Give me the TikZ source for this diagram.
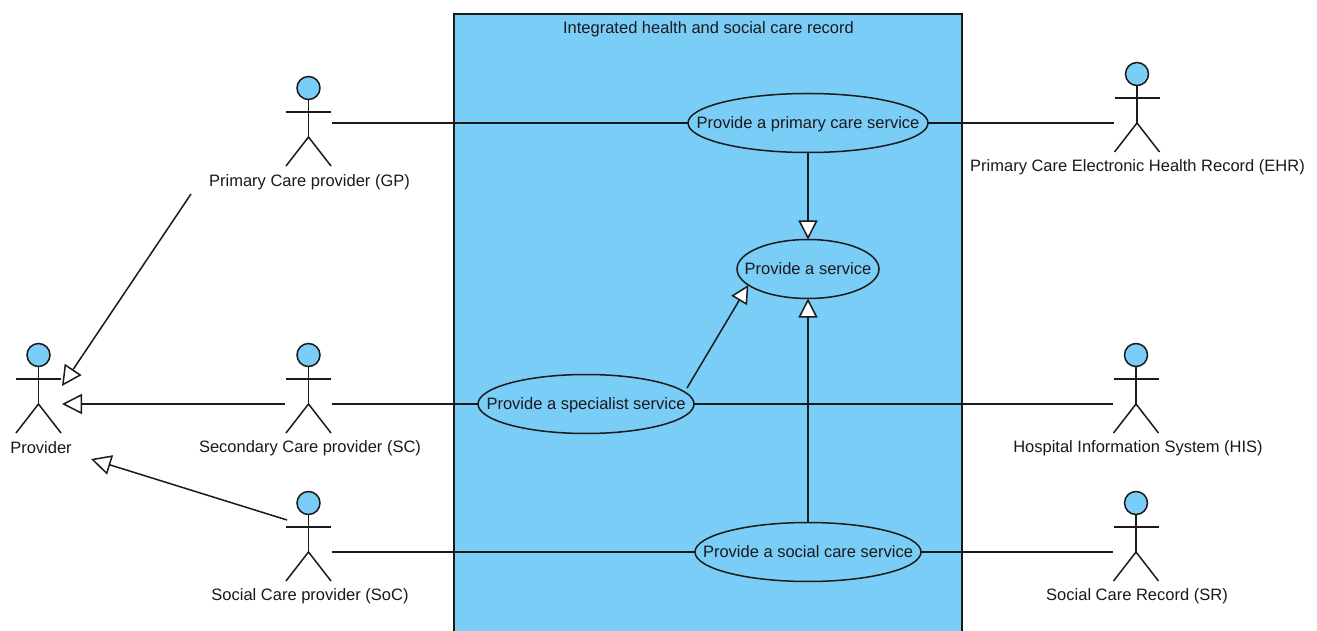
\documentclass[tikz,border=0pt]{standalone}
\usepackage{fontspec}
\setmainfont{Liberation Sans}
\usetikzlibrary{shapes.geometric,arrows.meta}
\definecolor{ucblue}{HTML}{7ACDF6}
\definecolor{ink}{HTML}{1A1A1A}
\tikzset{
  x=1pt,y=-1pt,
  usecase/.style={ellipse,draw=ink,fill=ucblue,line width=1.5pt,inner sep=0pt,outer sep=0pt,minimum height=59pt,text=ink,font=\fontsize{16.5}{19}\selectfont},
  actorbox/.style={inner sep=0pt,outer sep=0pt,minimum width=46pt,minimum height=90pt},
  actorlabel/.style={text=ink,font=\fontsize{16.5}{19}\selectfont,inner sep=0pt},
  assoc/.style={draw=ink,line width=1.5pt},
  gen/.style={draw=ink,line width=1.5pt,-{Triangle[open,fill=white,length=20pt,width=20pt]}},
  genvert/.style={draw=ink,line width=1.5pt,-{Triangle[open,fill=white,length=19pt,width=19pt]}},
  gensmall/.style={draw=ink,line width=1.5pt,-{Triangle[open,fill=white,length=18pt,width=18pt]}},
  stick/.style={draw=ink,line width=1.5pt},
  head/.style={circle,draw=ink,fill=ucblue,line width=1.5pt,minimum size=23pt,inner sep=0pt,outer sep=0pt}
}
\newcommand{\actor}[3]{% name, x, head y
  \node[actorbox] (#1) at (#2,#3+33.5) {};
  \node[head] (#1head) at (#2,#3) {};
  \draw[stick] (#1head.south) -- (#2,#3+49);
  \draw[stick] (#2-22.5,#3+24) -- (#2+22.5,#3+24);
  \draw[stick] (#2-22.5,#3+78) -- (#2,#3+49) -- (#2+22.5,#3+78);
}
\newcommand{\uctext}[1]{\makebox[0pt]{\smash{\raisebox{-5.5pt}{#1}}}}
\begin{document}
\begin{tikzpicture}
\useasboundingbox (0,0) rectangle (1317,631);
\fill[white] (0,0) rectangle (1317,631);
\path[fill=ucblue] (454,14) rectangle (962,631);
\draw[ink,line width=1.5pt] (454,640) -- (454,14) -- (962,14) -- (962,640);
\node[actorlabel] (systitle) at (708.5,29) {Integrated health and social care record};

\actor{prov}{38.5}{355}
\actor{gp}{308.5}{88}
\actor{sc}{308.5}{355}
\actor{soc}{308.5}{503}
\actor{ehr}{1137}{74}
\actor{his}{1136}{355}
\actor{sr}{1136}{503}

\node[actorlabel] (provl) at (41,448) {Provider};
\node[actorlabel] (gpl) at (309.5,182.5) {Primary Care provider (GP)};
\node[actorlabel] (scl) at (310,448.5) {Secondary Care provider (SC)};
\node[actorlabel] (socl) at (310,596.5) {Social Care provider (SoC)};
\node[actorlabel] (ehrl) at (1137.5,167.5) {Primary Care Electronic Health Record (EHR)};
\node[actorlabel] (hisl) at (1138,448.5) {Hospital Information System (HIS)};
\node[actorlabel] (srl) at (1137,596.5) {Social Care Record (SR)};

\node[usecase,minimum width=240pt] (primary) at (808,123) {\uctext{Provide a primary care service}};
\node[usecase,minimum width=142pt] (service) at (808,269) {\uctext{Provide a service}};
\node[usecase,minimum width=216pt] (special) at (586,404) {\uctext{Provide a specialist service}};
\node[usecase,minimum width=226pt] (social) at (808,552) {\uctext{Provide a social care service}};

\coordinate (p1) at (191,194);
\coordinate (p1t) at (62,386);
\coordinate (p2) at (285,404);
\coordinate (p2t) at (62,404);
\coordinate (p3) at (287,520);
\coordinate (p3t) at (91,459);
\coordinate (s1) at (687,388);

\draw[gen] (p1) -- (p1t);
\draw[gen] (p2) -- (p2t);
\draw[gen] (p3) -- (p3t);

\draw[assoc] (gp.east |- primary) -- (primary.west);
\draw[assoc] (primary.east) -- (ehr.west |- primary);
\draw[assoc] (sc.east |- special) -- (special.west);
\draw[assoc] (special.east) -- (his.west |- special);
\draw[assoc] (soc.east |- social) -- (social.west);
\draw[assoc] (social.east) -- (sr.west |- social);

\draw[genvert] (primary.south) -- (service.north);
\draw[genvert] (social.north) -- (service.south);
\draw[gensmall] (s1) -- (service.-165);
\end{tikzpicture}
\end{document}
